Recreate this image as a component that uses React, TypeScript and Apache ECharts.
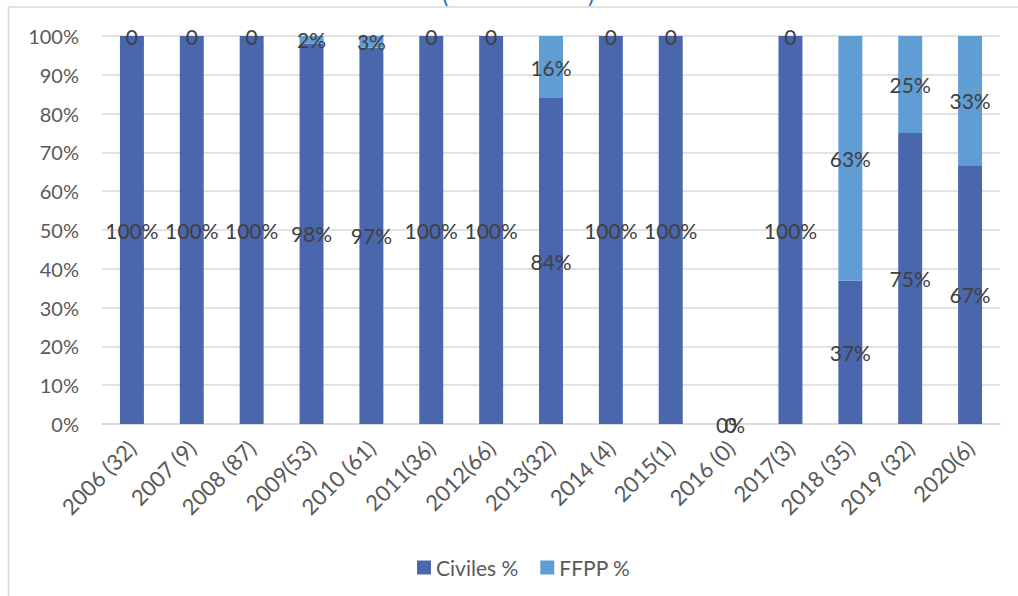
import React, { useEffect, useRef } from "react";
import * as echarts from "echarts";

const categories = [
  "2006 (32)", "2007 (9)", "2008 (87)", "2009(53)", "2010 (61)", "2011(36)", "2012(66)",
  "2013(32)", "2014 (4)", "2015(1)", "2016 (0)", "2017(3)", "2018 (35)", "2019 (32)", "2020(6)",
];
const civiles = [1, 1, 1, 0.98, 0.97, 1, 1, 0.84, 1, 1, 0, 1, 0.37, 0.75, 0.667];
const ffpp = [0, 0, 0, 0.02, 0.03, 0, 0, 0.16, 0, 0, 0, 0, 0.63, 0.25, 0.333];
const seriesNames = ["Civiles %", "FFPP %"];

const FONT = "Lato";

export default function App() {
  const ref = useRef<HTMLDivElement>(null);
  useEffect(() => {
    if (!ref.current) return;
    const chart = echarts.init(ref.current, null, { renderer: "svg" });
    const pct = (v: number) => Math.round(v * 100) + "%";
    chart.setOption({
      animation: false,
      textStyle: { fontFamily: FONT },
      grid: { left: 102, right: 18, top: 36, bottom: 172 },
      graphic: [
        {
          type: "rect",
          shape: { x: 8.5, y: 7, width: 1100, height: 700 },
          style: { fill: "none", stroke: "#d9d9d9", lineWidth: 1.5 },
          silent: true,
        },
        {
          type: "text",
          x: 442,
          y: 5,
          style: { text: "(", font: `24px ${FONT}`, fill: "#2e75b6", textVerticalAlign: "bottom" },
        },
        {
          type: "text",
          x: 588,
          y: 5,
          style: { text: ")", font: `24px ${FONT}`, fill: "#2e75b6", textVerticalAlign: "bottom" },
        },
      ],
      legend: {
        left: 412,
        top: 552,
        icon: "rect",
        itemWidth: 14,
        itemHeight: 14,
        itemGap: 22,
        textStyle: { fontSize: 21, color: "#595959", fontFamily: FONT },
        data: seriesNames,
      },
      xAxis: {
        type: "category",
        data: categories,
        axisTick: { show: false },
        axisLine: { lineStyle: { color: "#d9d9d9", width: 1.5 } },
        axisLabel: { rotate: 45, fontSize: 22, color: "#595959", margin: 20, interval: 0, fontFamily: FONT },
      },
      yAxis: {
        type: "value",
        min: 0,
        max: 1,
        interval: 0.1,
        axisLabel: {
          formatter: (v: number) => Math.round(v * 100) + "%",
          fontSize: 20,
          color: "#595959",
          margin: 23,
          fontFamily: FONT,
        },
        splitLine: { lineStyle: { color: "#d9d9d9", width: 1.5 } },
        axisLine: { show: false },
        axisTick: { show: false },
      },
      series: [
        {
          name: seriesNames[0],
          type: "bar",
          stack: "a",
          data: civiles,
          barWidth: "40%",
          itemStyle: { color: "#4a66ac" },
          label: {
            show: true,
            position: "inside",
            formatter: (p: any) => pct(p.value),
            fontSize: 21,
            color: "#404040",
            fontFamily: FONT,
          },
        },
        {
          name: seriesNames[1],
          type: "bar",
          stack: "a",
          data: ffpp,
          barWidth: "40%",
          itemStyle: { color: "#5f9dd2" },
          label: {
            show: true,
            position: "inside",
            formatter: (p: any) => (p.value === 0 ? "0" : pct(p.value)),
            fontSize: 21,
            color: "#404040",
            fontFamily: FONT,
          },
        },
      ],
    });
    return () => chart.dispose();
  }, []);
  return (
    <div
      ref={ref}
      style={{ position: "fixed", left: 0, top: 0, width: 1018, height: 596, background: "#fff" }}
    />
  );
}
